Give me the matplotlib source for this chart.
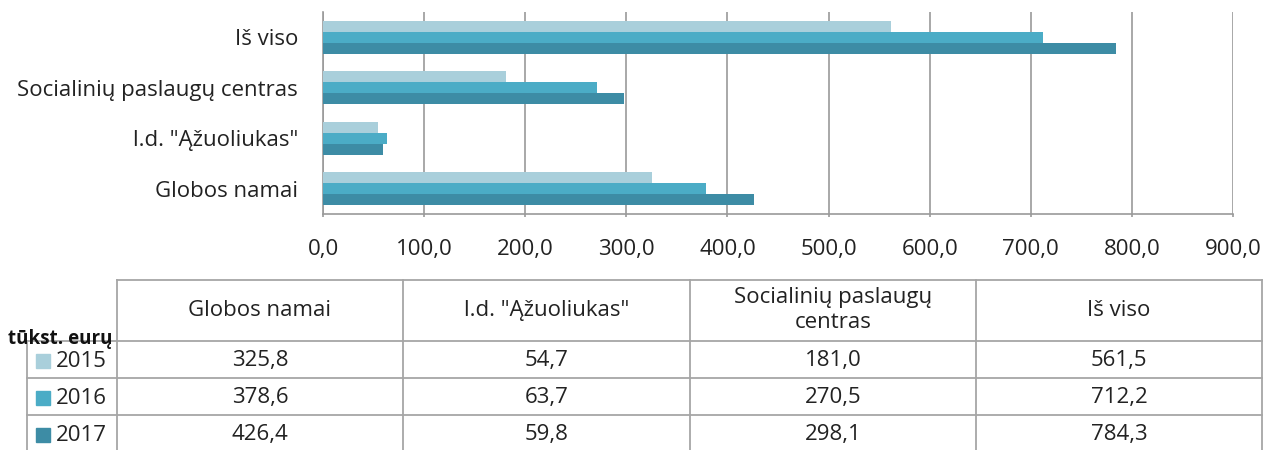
import matplotlib
matplotlib.use("Agg")
import matplotlib.pyplot as plt
from matplotlib.patches import Rectangle

plt.rcParams['font.family'] = ['Open Sans', 'DejaVu Sans']

categories = ['Globos namai', 'l.d. "Ąžuoliukas"', 'Socialinių paslaugų centras', 'Iš viso']
table_headers = ['Globos namai', 'l.d. "Ąžuoliukas"', 'Socialinių paslaugų\ncentras', 'Iš viso']
years = ['2015', '2016', '2017']
values_2015 = [325.8, 54.7, 181.0, 561.5]
values_2016 = [378.6, 63.7, 270.5, 712.2]
values_2017 = [426.4, 59.8, 298.1, 784.3]
series = [values_2015, values_2016, values_2017]
colors = ['#A9CFDB', '#4BACC6', '#3D8CA5']
xticks = [0, 100, 200, 300, 400, 500, 600, 700, 800, 900]
unit_label = 'tūkst. eurų'

W, H = 1265, 450
fig = plt.figure(figsize=(W / 100, H / 100), dpi=100)

# bar chart axes (pixel box: x 323..1233, y 12..214)
L, R, T, B = 323, 1233, 12, 214
ax = fig.add_axes([L / W, 1 - B / H, (R - L) / W, (B - T) / H])
bh = 0.22
offsets = [bh, 0, -bh]
for vals, off, c in zip(series, offsets, colors):
    ax.barh([i + off for i in range(len(categories))], vals, height=bh, color=c, zorder=3)
ax.set_xlim(0, 900)
ax.set_ylim(-0.5, len(categories) - 0.5)
ax.set_xticks(xticks)
ax.set_xticklabels([f"{v:.1f}".replace('.', ',') for v in xticks], fontsize=16, color='#222222')
ax.set_yticks(range(len(categories)))
ax.set_yticklabels(categories, fontsize=16, color='#222222')
ax.tick_params(axis='y', length=0, pad=18)
ax.tick_params(axis='x', length=2, color='#9a9a9a', width=1.2, pad=16)
ax.grid(axis='x', color='#9a9a9a', linewidth=1.2, zorder=0)
for s in ['top', 'right']:
    ax.spines[s].set_visible(False)
for s in ['left', 'bottom']:
    ax.spines[s].set_color('#9a9a9a')
    ax.spines[s].set_linewidth(1.2)

# data table drawn in pixel coordinates
tx = fig.add_axes([0, 0, 1, 1], zorder=5)
tx.set_xlim(0, W)
tx.set_ylim(H, 0)
tx.axis('off')
tx.patch.set_alpha(0)

lc = '#a6a6a6'
lw = 1.3
col_x = [117, 403, 690, 976, 1262]
leg_x = 27
row_y = [280, 341, 378, 415, 452]

# horizontal lines
tx.plot([col_x[0], col_x[-1]], [row_y[0], row_y[0]], color=lc, lw=lw)
for y in row_y[1:4]:
    tx.plot([leg_x, col_x[-1]], [y, y], color=lc, lw=lw)
# vertical lines
for x in col_x:
    tx.plot([x, x], [row_y[0], row_y[-1]], color=lc, lw=lw)
tx.plot([leg_x, leg_x], [row_y[1], row_y[-1]], color=lc, lw=lw)

fs = 16
for j, h in enumerate(table_headers):
    cx = (col_x[j] + col_x[j + 1]) / 2
    tx.text(cx, (row_y[0] + row_y[1]) / 2, h, ha='center', va='center', fontsize=fs,
            color='#222222', linespacing=1.25)

for i, (yr, vals, c) in enumerate(zip(years, series, colors)):
    cy = (row_y[i + 1] + row_y[i + 2]) / 2
    tx.add_patch(Rectangle((36, cy - 6), 14, 14, color=c))
    tx.text(56, cy + 2, yr, ha='left', va='center', fontsize=fs, color='#222222')
    for j, v in enumerate(vals):
        cx = (col_x[j] + col_x[j + 1]) / 2
        tx.text(cx, cy + 1, f"{v:.1f}".replace('.', ','), ha='center', va='center',
                fontsize=fs, color='#222222')

tx.text(8, 339, unit_label, ha='left', va='center', fontsize=13.5, fontweight='bold',
        color='#111111')

fig.savefig('out.png', dpi=100)
